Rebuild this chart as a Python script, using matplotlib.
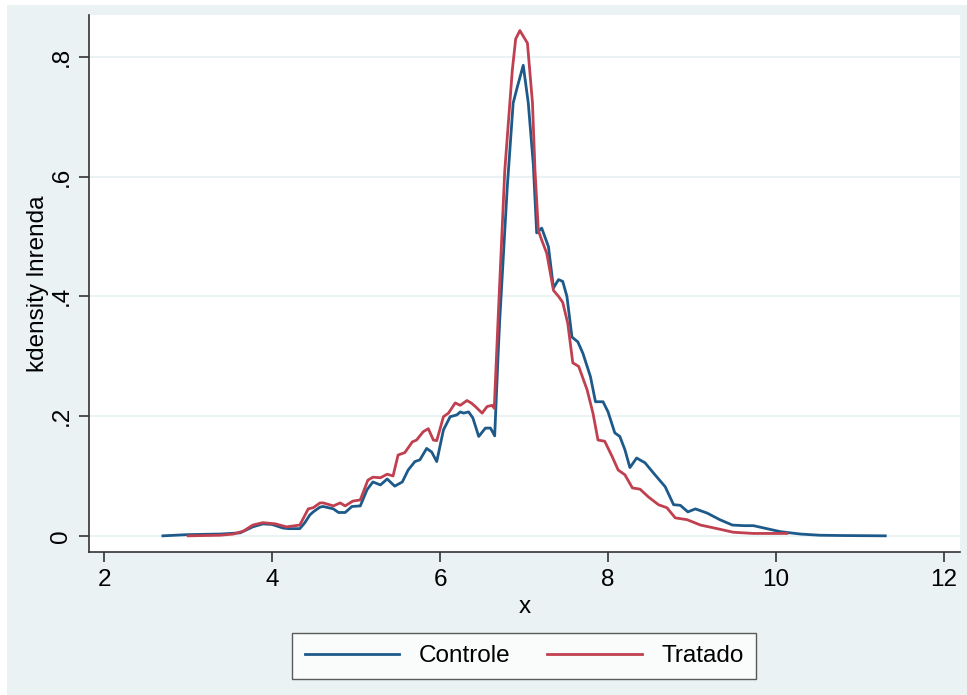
import matplotlib.pyplot as plt
from matplotlib.patches import Rectangle

plt.rcParams['font.family'] = ['Liberation Sans', 'DejaVu Sans']

# kernel density of lnrenda
ctrl_x = [2.70, 2.99, 3.38, 3.62, 3.77, 3.89, 4.00, 4.13, 4.20, 4.33, 4.39, 4.45, 4.49,
          4.57, 4.61, 4.73, 4.79, 4.87, 4.95, 5.05, 5.13, 5.20, 5.29, 5.37, 5.46, 5.55,
          5.62, 5.70, 5.76, 5.84, 5.90, 5.96, 6.04, 6.12, 6.20, 6.24, 6.28, 6.34, 6.39,
          6.46, 6.54, 6.60, 6.65, 6.69, 6.71, 6.80, 6.87, 6.92, 6.99, 7.05, 7.11, 7.15,
          7.21, 7.29, 7.35, 7.41, 7.46, 7.51, 7.57, 7.64, 7.70, 7.79, 7.85, 7.94, 8.00,
          8.08, 8.14, 8.20, 8.26, 8.34, 8.44, 8.54, 8.68, 8.78, 8.86, 8.95, 9.04, 9.18,
          9.33, 9.48, 9.62, 9.73, 9.89, 10.05, 10.29, 10.52, 10.80, 11.00, 11.30]
ctrl_y = [0.0, 0.002, 0.003, 0.005, 0.015, 0.02, 0.019, 0.013, 0.012, 0.012, 0.022, 0.035,
          0.04, 0.048, 0.049, 0.045, 0.039, 0.039, 0.049, 0.05, 0.077, 0.09, 0.085, 0.095,
          0.083, 0.09, 0.11, 0.124, 0.127, 0.146, 0.14, 0.124, 0.177, 0.199, 0.202, 0.207,
          0.205, 0.207, 0.197, 0.166, 0.18, 0.18, 0.167, 0.30, 0.36, 0.583, 0.723, 0.75,
          0.786, 0.723, 0.62, 0.506, 0.514, 0.483, 0.414, 0.428, 0.425, 0.40, 0.332, 0.324,
          0.305, 0.266, 0.224, 0.224, 0.207, 0.172, 0.166, 0.144, 0.114, 0.13, 0.122, 0.105,
          0.082, 0.052, 0.051, 0.04, 0.045, 0.038, 0.027, 0.018, 0.017, 0.017, 0.012, 0.007,
          0.003, 0.001, 0.0005, 0.0003, 0.0]

treat_x = [3.00, 3.38, 3.54, 3.66, 3.77, 3.89, 4.04, 4.17, 4.33, 4.43, 4.49, 4.57, 4.61,
           4.73, 4.81, 4.87, 4.96, 5.05, 5.14, 5.20, 5.29, 5.37, 5.44, 5.50, 5.58, 5.67,
           5.72, 5.80, 5.86, 5.92, 5.96, 6.04, 6.10, 6.18, 6.24, 6.32, 6.37, 6.42, 6.50,
           6.56, 6.62, 6.645, 6.69, 6.77, 6.86, 6.90, 6.95, 7.04, 7.10, 7.13, 7.17, 7.21,
           7.27, 7.35, 7.41, 7.46, 7.52, 7.58, 7.65, 7.75, 7.82, 7.88, 7.96, 8.05, 8.12,
           8.20, 8.29, 8.38, 8.48, 8.60, 8.70, 8.80, 8.94, 9.10, 9.30, 9.49, 9.73, 9.96, 10.13]
treat_y = [0.0, 0.001, 0.003, 0.008, 0.018, 0.022, 0.02, 0.015, 0.018, 0.045, 0.047, 0.055,
           0.055, 0.05, 0.055, 0.05, 0.058, 0.06, 0.093, 0.098, 0.097, 0.103, 0.10, 0.135,
           0.139, 0.157, 0.16, 0.174, 0.179, 0.16, 0.159, 0.199, 0.205, 0.222, 0.218, 0.226,
           0.222, 0.216, 0.205, 0.216, 0.218, 0.213, 0.36, 0.61, 0.778, 0.83, 0.844, 0.823,
           0.723, 0.61, 0.51, 0.494, 0.472, 0.41, 0.40, 0.39, 0.355, 0.289, 0.283, 0.244,
           0.205, 0.16, 0.158, 0.132, 0.11, 0.102, 0.08, 0.078, 0.065, 0.052, 0.047, 0.03,
           0.027, 0.018, 0.012, 0.006, 0.004, 0.004, 0.004]

y_ticks = [0, 0.2, 0.4, 0.6, 0.8]
y_labels = ['0', '.2', '.4', '.6', '.8']
x_ticks = [2, 4, 6, 8, 10, 12]

bg = '#eaf2f3'
fs = 17.5

fig = plt.figure(figsize=(9.67, 6.95), dpi=100, facecolor='white')
# stata graph region
fig.patches.append(Rectangle((7 / 967, 0), 1, 690 / 695, transform=fig.transFigure,
                             facecolor=bg, edgecolor='none', zorder=-10))
ax = fig.add_axes([89 / 967, 143 / 695, 871 / 967, 537 / 695])
ax.set_facecolor('white')

ax.plot(ctrl_x, ctrl_y, color='#1d5a8a', lw=2.0, label='Controle')
ax.plot(treat_x, treat_y, color='#c0404f', lw=2.0, label='Tratado')

ax.set_xlim(1.82, 12.19)
ax.set_ylim(-0.027, 0.870)
ax.set_xticks(x_ticks)
ax.set_yticks(y_ticks)
ax.set_yticklabels(y_labels, rotation=90, va='center')
ax.grid(axis='y', color=bg, lw=1.5)
ax.grid(axis='x', visible=False)
ax.set_axisbelow(True)

for s in ['top', 'right']:
    ax.spines[s].set_visible(False)
for s in ['left', 'bottom']:
    ax.spines[s].set_color('#333333')
    ax.spines[s].set_linewidth(1.2)
ax.tick_params(length=7, width=1.2, color='#333333', labelsize=fs, pad=5)

ax.set_xlabel('x', fontsize=fs, labelpad=4)
ax.set_ylabel('kdensity lnrenda', fontsize=fs, labelpad=1)

leg = fig.legend(loc='center', bbox_to_anchor=(524 / 967, 1 - 656 / 695), ncol=2,
                 fontsize=fs, frameon=True, fancybox=False, handlelength=3.9,
                 columnspacing=1.5, borderpad=0.5, edgecolor='#333333')
leg.get_frame().set_linewidth(1.0)

fig.savefig('out.png', dpi=100, facecolor=fig.get_facecolor())
